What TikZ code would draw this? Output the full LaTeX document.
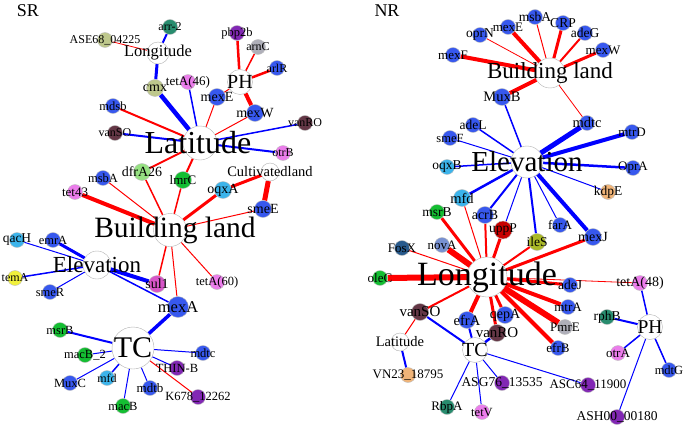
\documentclass[tikz,border=0pt]{standalone}
\usepackage{fontspec}
\setmainfont{Liberation Serif}
\usetikzlibrary{backgrounds}
\definecolor{cBlue}{RGB}{55,88,238}
\definecolor{cSky}{RGB}{60,180,235}
\definecolor{cGreen}{RGB}{20,190,50}
\definecolor{cLime}{RGB}{150,225,130}
\definecolor{cOlive}{RGB}{190,200,140}
\definecolor{cPink}{RGB}{235,125,235}
\definecolor{cMagenta}{RGB}{215,85,200}
\definecolor{cPurple}{RGB}{130,40,180}
\definecolor{cMaroon}{RGB}{100,55,70}
\definecolor{cGrey}{RGB}{175,175,185}
\definecolor{cTeal}{RGB}{40,140,110}
\definecolor{cYellow}{RGB}{240,240,60}
\definecolor{cPeach}{RGB}{240,180,120}
\definecolor{cDarkRed}{RGB}{200,0,0}
\definecolor{cOliveG}{RGB}{170,185,40}
\definecolor{cSlate}{RGB}{120,145,210}
\definecolor{cSteel}{RGB}{40,90,140}
\tikzset{
    gene/.style = {circle, draw=black!25, line width=0.4pt, fill=#1, minimum size=15pt, inner sep=0pt},
    hub/.style = {circle, draw=black!30, line width=0.4pt, fill=white, minimum size=#1, inner sep=0pt},
    lbl/.style = {font=\fontsize{#1}{#1}\selectfont, inner sep=0pt},
    lbl/.default = 13,
    edger/.style = {red, line width=#1pt}, % positive
    edgeb/.style = {blue, line width=#1pt}, % negative
}

\begin{document}
\begin{tikzpicture}[x=1pt,y=-1pt]
\useasboundingbox (0,0) rectangle (685,428);

% SR network
\node[lbl=18] at (28,11) (srTitle) {SR};
\node[gene=cOlive, label={[lbl=12]center:ASE68\_04225}] at (105,40) (s-ase) {};
\node[gene=cTeal, label={[lbl=12]center:arr-2}] at (170,27) (s-arr) {};
\node[gene=cOlive, minimum size=17pt, label={[lbl=14]center:cmx}] at (155,88) (s-cmx) {};
\node[gene=cBlue, label={[lbl=12.5]center:mdsb}] at (113,106) (s-mdsb) {};
\node[gene=cMaroon, label={[lbl=12]center:vanSO}] at (115,133) (s-vanso) {};
\node[gene=cPink, label={[lbl=13]center:tetA(46)}] at (188,82) (s-teta46) {};
\node[gene=cPurple, label={[lbl=12.5]center:pbp2b}] at (237,33) (s-pbp) {};
\node[gene=cGrey, label={[lbl=12]center:arnC}] at (258,47) (s-arnc) {};
\node[gene=cBlue, label={[lbl=12]center:arlR}] at (277,68) (s-arlr) {};
\node[gene=cBlue, minimum size=17pt, label={[lbl=14]center:mexE}] at (217,97) (s-mexe) {};
\node[gene=cBlue, minimum size=17pt, label={[lbl=14]center:mexW}] at (255,113) (s-mexw) {};
\node[gene=cMaroon, label={[lbl=12]center:vanRO}] at (305,123) (s-vanro) {};
\node[gene=cPink, label={[lbl=12]center:otrB}] at (283,153) (s-otrb) {};
\node[gene=cLime, minimum size=17pt, label={[lbl=14]center:dfrA26}] at (142,172) (s-dfra) {};
\node[gene=cBlue, label={[lbl=12.5]center:msbA}] at (103,178) (s-msba) {};
\node[gene=cPink, label={[lbl=13]center:tet43}] at (75,192) (s-tet43) {};
\node[gene=cGreen, minimum size=17pt, label={[lbl=13]center:lmrC}] at (183,180) (s-lmrc) {};
\node[gene=cSky, minimum size=17pt, label={[lbl=14]center:oqxA}] at (223,190) (s-oqxa) {};
\node[gene=cBlue, minimum size=17pt, label={[lbl=14]center:smeE}] at (263,209) (s-smee) {};
\node[gene=cSky, label={[lbl=13.5]center:qacH}] at (17,240) (s-qach) {};
\node[gene=cBlue, label={[lbl=12.5]center:emrA}] at (53,240) (s-emra) {};
\node[gene=cYellow, label={[lbl=12]center:temA}] at (15,278) (s-tema) {};
\node[gene=cBlue, label={[lbl=12.5]center:smeR}] at (50,292) (s-smer) {};
\node[gene=cMagenta, minimum size=17pt, label={[lbl=14]center:sul1}] at (157,284) (s-sul1) {};
\node[gene=cPink, label={[lbl=12.5]center:tetA(60)}] at (217,282) (s-teta60) {};
\node[gene=cBlue, minimum size=21pt, label={[lbl=16.5]center:mexA}] at (178,307) (s-mexa) {};
\node[gene=cGreen, label={[lbl=12.5]center:msrB}] at (60,330) (s-msrb) {};
\node[gene=cGreen, label={[lbl=12.5]center:macB\_2}] at (85,355) (s-macb2) {};
\node[gene=cBlue, label={[lbl=12.5]center:MuxC}] at (70,383) (s-muxc) {};
\node[gene=cSky, label={[lbl=12]center:mfd}] at (107,378) (s-mfd) {};
\node[gene=cGreen, label={[lbl=12.5]center:macB}] at (123,406) (s-macb) {};
\node[gene=cBlue, label={[lbl=13]center:mdtb}] at (150,388) (s-mdtb) {};
\node[gene=cBlue, label={[lbl=12.5]center:mdtc}] at (203,353) (s-mdtc) {};
\node[gene=cPurple, label={[lbl=12.5]center:THIN-B}] at (177,368) (s-thin) {};
\node[gene=cPurple, label={[lbl=12.5]center:K678\_12262}] at (198,397) (s-k678) {};
\node[hub=22pt, label={[lbl=16.5]center:Longitude}] at (158,53) (s-lon) {};
\node[hub=25pt, label={[lbl=20]center:PH}] at (240,82) (s-ph) {};
\node[hub=18pt, label={[lbl=14.5]center:Cultivatedland}] at (270,172) (s-cult) {};
\node[hub=34pt, label={[lbl=32,xshift=-2pt]center:Latitude}] at (200,143) (s-lat) {};
\node[hub=33pt, label={[lbl=29.5,xshift=5pt]center:Building land}] at (170,230) (s-bld) {};
\node[hub=28pt, label={[lbl=23]center:Elevation}] at (97,265) (s-ele) {};
\node[hub=42pt, label={[lbl=30]center:TC}] at (133,348) (s-tc) {};

% NR network
\node[lbl=18] at (387,11) (nrTitle) {NR};
\node[gene=cBlue, label={[lbl=13]center:mexE}] at (508,27) (n-mexe) {};
\node[gene=cBlue, label={[lbl=13.5]center:msbA}] at (535,17) (n-msba) {};
\node[gene=cBlue, label={[lbl=13.5]center:CRP}] at (563,23) (n-crp) {};
\node[gene=cBlue, label={[lbl=13.5]center:adeG}] at (585,33) (n-adeg) {};
\node[gene=cBlue, label={[lbl=13]center:mexW}] at (603,50) (n-mexw) {};
\node[gene=cBlue, label={[lbl=13.5]center:oprN}] at (480,35) (n-oprn) {};
\node[gene=cBlue, label={[lbl=13]center:mexF}] at (453,55) (n-mexf) {};
\node[gene=cBlue, minimum size=17pt, label={[lbl=14.5]center:MuxB}] at (502,97) (n-muxb) {};
\node[gene=cBlue, label={[lbl=14.5]center:mdtc}] at (587,123) (n-mdtc) {};
\node[gene=cBlue, label={[lbl=13]center:mtrD}] at (632,132) (n-mtrd) {};
\node[gene=cBlue, label={[lbl=13.5]center:adeL}] at (473,125) (n-adel) {};
\node[gene=cBlue, label={[lbl=12.5]center:smeF}] at (450,138) (n-smef) {};
\node[gene=cBlue, label={[lbl=13]center:OprA}] at (633,168) (n-opra) {};
\node[gene=cSky, label={[lbl=13.5]center:oqxB}] at (447,167) (n-oqxb) {};
\node[gene=cPeach, label={[lbl=13.5]center:kdpE}] at (608,192) (n-kdpe) {};
\node[gene=cSky, minimum size=17pt, label={[lbl=14.5]center:mfd}] at (462,198) (n-mfd) {};
\node[gene=cGreen, label={[lbl=13.5]center:msrB}] at (437,212) (n-msrb) {};
\node[gene=cBlue, minimum size=17pt, label={[lbl=14]center:acrB}] at (485,215) (n-acrb) {};
\node[gene=cDarkRed, minimum size=18pt, label={[lbl=13.5]center:uppP}] at (503,230) (n-uppp) {};
\node[gene=cBlue, label={[lbl=13]center:farA}] at (560,225) (n-fara) {};
\node[gene=cOliveG, minimum size=17pt, label={[lbl=13.5]center:ileS}] at (537,242) (n-iles) {};
\node[gene=cBlue, minimum size=17pt, label={[lbl=14]center:mexJ}] at (593,237) (n-mexj) {};
\node[gene=cSlate, label={[lbl=13]center:novA}] at (442,245) (n-nova) {};
\node[gene=cSteel, label={[lbl=13]center:FosX}] at (402,248) (n-fosx) {};
\node[gene=cGreen, label={[lbl=13]center:oleC}] at (380,278) (n-olec) {};
\node[gene=cMaroon, minimum size=17pt, label={[lbl=15]center:vanSO}] at (420,312) (n-vanso) {};
\node[gene=cBlue, minimum size=17pt, label={[lbl=14.5]center:efrA}] at (467,320) (n-efra) {};
\node[gene=cBlue, minimum size=17pt, label={[lbl=14]center:qepA}] at (505,315) (n-qepa) {};
\node[gene=cMaroon, minimum size=17pt, label={[lbl=15]center:vanRO}] at (497,333) (n-vanro) {};
\node[gene=cPeach, label={[lbl=13]center:VN23\_18795}] at (408,375) (n-vn23) {};
\node[gene=cPurple, label={[lbl=13.5]center:ASG76\_13535}] at (502,383) (n-asg76) {};
\node[gene=cTeal, label={[lbl=13]center:RbpA}] at (447,407) (n-rbpa) {};
\node[gene=cPink, label={[lbl=12.5]center:tetV}] at (482,412) (n-tetv) {};
\node[gene=cBlue, label={[lbl=13.5]center:adeJ}] at (570,285) (n-adej) {};
\node[gene=cBlue, label={[lbl=13]center:mtrA}] at (568,307) (n-mtra) {};
\node[gene=cGrey, label={[lbl=13]center:PmrE}] at (565,327) (n-pmre) {};
\node[gene=cBlue, label={[lbl=13]center:efrB}] at (558,348) (n-efrb) {};
\node[gene=cPink, label={[lbl=14]center:tetA(48)}] at (640,283) (n-teta48) {};
\node[gene=cTeal, label={[lbl=13.5]center:rphB}] at (607,317) (n-rphb) {};
\node[gene=cPink, label={[lbl=13]center:otrA}] at (618,353) (n-otra) {};
\node[gene=cBlue, label={[lbl=12.5]center:mdtG}] at (669,370) (n-mdtg) {};
\node[gene=cPurple, label={[lbl=13]center:ASC64\_11900}] at (588,385) (n-asc64) {};
\node[gene=cPurple, label={[lbl=13.5]center:ASH00\_00180}] at (617,417) (n-ash00) {};
\node[hub=30pt, label={[lbl=23]center:Building land}] at (550,73) (n-bld) {};
\node[hub=32pt, label={[lbl=29]center:Elevation}] at (527,162) (n-ele) {};
\node[hub=40pt, label={[lbl=34]center:Longitude}] at (487,277) (n-lon) {};
\node[hub=18pt, label={[lbl=14.5]center:Latitude}] at (400,342) (n-lat) {};
\node[hub=25pt, label={[lbl=20]center:TC}] at (475,350) (n-tc) {};
\node[hub=25pt, label={[lbl=19.5]center:PH}] at (650,327) (n-ph) {};

\begin{scope}[on background layer]
% SR edges
\draw[edger=0.8] (s-ase) -- (s-lon);
\draw[edgeb=2] (s-arr) -- (s-lon);
\draw[edgeb=3] (s-lon) -- (s-cmx);
\draw[edgeb=4.5] (s-cmx) -- (s-lat);
\draw[edger=2] (s-mdsb) -- (s-lat);
\draw[edgeb=2] (s-vanso) -- (s-lat);
\draw[edgeb=1.5] (s-teta46) -- (s-lat);
\draw[edger=1] (s-mexe) -- (s-lat);
\draw[edger=1] (s-mexe) -- (s-ph);
\draw[edger=2.5] (s-ph) -- (s-pbp);
\draw[edger=1.5] (s-ph) -- (s-arnc);
\draw[edger=2.5] (s-ph) -- (s-arlr);
\draw[edger=4] (s-ph) -- (s-mexw);
\draw[edger=1] (s-mexw) -- (s-lat);
\draw[edgeb=1.5] (s-vanro) -- (s-lat);
\draw[edgeb=2] (s-otrb) -- (s-lat);
\draw[edger=2] (s-lat) -- (s-dfra);
\draw[edger=2] (s-lat) -- (s-lmrc);
\draw[edger=1.5] (s-dfra) -- (s-bld);
\draw[edger=1.5] (s-lmrc) -- (s-bld);
\draw[edger=1] (s-msba) -- (s-bld);
\draw[edger=4] (s-tet43) -- (s-bld);
\draw[edger=3] (s-oqxa) -- (s-bld);
\draw[edger=3] (s-oqxa) -- (s-cult);
\draw[edger=5] (s-cult) -- (s-smee);
\draw[edger=1] (s-smee) -- (s-bld);
\draw[edger=1.5] (s-bld) -- (s-sul1);
\draw[edger=1] (s-bld) -- (s-teta60);
\draw[edger=1] (s-bld) -- (s-mexa);
\draw[edgeb=1] (s-ele) -- (s-qach);
\draw[edgeb=3] (s-ele) -- (s-emra);
\draw[edgeb=1.5] (s-ele) -- (s-tema);
\draw[edgeb=1] (s-ele) -- (s-smer);
\draw[edgeb=4] (s-ele) -- (s-sul1);
\draw[edgeb=1.5] (s-ele) -- (s-mexa);
\draw[edgeb=3.5] (s-mexa) -- (s-tc);
\draw[edgeb=2] (s-tc) -- (s-msrb);
\draw[edgeb=1] (s-tc) -- (s-macb2);
\draw[edgeb=1] (s-tc) -- (s-muxc);
\draw[edgeb=1.5] (s-tc) -- (s-mfd);
\draw[edgeb=1] (s-tc) -- (s-macb);
\draw[edgeb=1] (s-tc) -- (s-mdtb);
\draw[edgeb=1] (s-tc) -- (s-mdtc);
\draw[edgeb=1] (s-tc) -- (s-thin);
\draw[edger=1] (s-tc) -- (s-k678);

% NR edges
\draw[edger=4] (n-bld) -- (n-mexf);
\draw[edger=0.8] (n-bld) -- (n-oprn);
\draw[edger=4] (n-bld) -- (n-mexe);
\draw[edger=1] (n-bld) -- (n-msba);
\draw[edger=3] (n-bld) -- (n-crp);
\draw[edger=2] (n-bld) -- (n-adeg);
\draw[edger=3] (n-bld) -- (n-mexw);
\draw[edger=4] (n-bld) -- (n-muxb);
\draw[edger=0.8] (n-bld) -- (n-mdtc);
\draw[edgeb=1.5] (n-ele) -- (n-muxb);
\draw[edgeb=1.5] (n-ele) -- (n-adel);
\draw[edgeb=1] (n-ele) -- (n-smef);
\draw[edgeb=1.5] (n-ele) -- (n-oqxb);
\draw[edgeb=5] (n-ele) -- (n-mdtc);
\draw[edgeb=4] (n-ele) -- (n-mtrd);
\draw[edgeb=2.5] (n-ele) -- (n-opra);
\draw[edgeb=1] (n-ele) -- (n-kdpe);
\draw[edgeb=4] (n-ele) -- (n-mexj);
\draw[edgeb=1] (n-ele) -- (n-fara);
\draw[edgeb=2] (n-ele) -- (n-iles);
\draw[edgeb=2] (n-ele) -- (n-acrb);
\draw[edgeb=2.5] (n-ele) -- (n-mfd);
\draw[edgeb=1] (n-ele) -- (n-uppp);
\draw[edger=6] (n-lon) -- (n-olec);
\draw[edger=1] (n-lon) -- (n-fosx);
\draw[edger=6] (n-lon) -- (n-nova);
\draw[edger=3] (n-lon) -- (n-msrb);
\draw[edger=1] (n-lon) -- (n-mfd);
\draw[edger=2] (n-lon) -- (n-acrb);
\draw[edger=3] (n-lon) -- (n-uppp);
\draw[edger=2] (n-lon) -- (n-iles);
\draw[edger=3] (n-lon) -- (n-mexj);
\draw[edger=3] (n-lon) -- (n-adej);
\draw[edger=4] (n-lon) -- (n-mtra);
\draw[edger=6] (n-lon) -- (n-pmre);
\draw[edger=4] (n-lon) -- (n-efrb);
\draw[edger=0.8] (n-lon) -- (n-teta48);
\draw[edger=2] (n-lon) -- (n-vanso);
\draw[edger=4] (n-lon) -- (n-efra);
\draw[edger=3] (n-lon) -- (n-qepa);
\draw[edger=3] (n-lon) -- (n-vanro);
\draw[edger=1] (n-vanso) -- (n-lat);
\draw[edgeb=2] (n-vanso) -- (n-tc);
\draw[edgeb=2] (n-lat) -- (n-vn23);
\draw[edgeb=2] (n-efra) -- (n-tc);
\draw[edgeb=2.5] (n-vanro) -- (n-tc);
\draw[edgeb=1] (n-tc) -- (n-asg76);
\draw[edgeb=1] (n-tc) -- (n-rbpa);
\draw[edgeb=1] (n-tc) -- (n-tetv);
\draw[edgeb=1] (n-tc) -- (n-asc64);
\draw[edgeb=1.5] (n-ph) -- (n-teta48);
\draw[edgeb=2] (n-ph) -- (n-rphb);
\draw[edgeb=1.5] (n-ph) -- (n-otra);
\draw[edgeb=1.5] (n-ph) -- (n-mdtg);
\draw[edgeb=1] (n-ph) -- (n-ash00);
\end{scope}

\end{tikzpicture}
\end{document}
